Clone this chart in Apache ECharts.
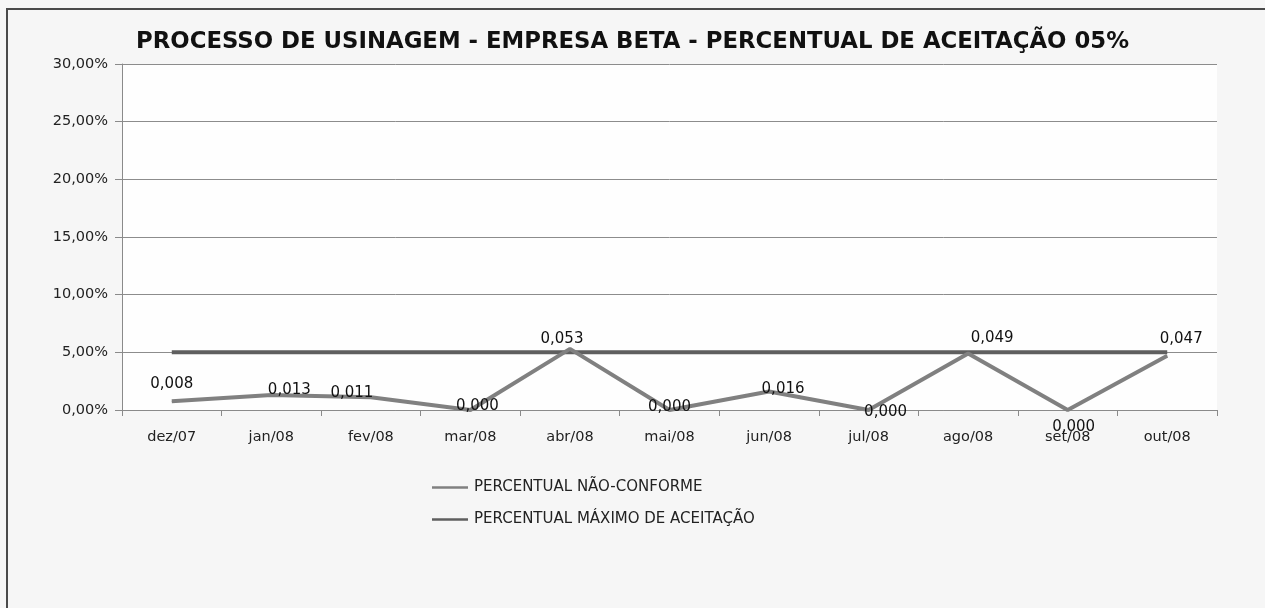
<!DOCTYPE html>
<html>
<head>
<meta charset="utf-8">
<script src="https://cdn.jsdelivr.net/npm/echarts@6/dist/echarts.min.js"></script>
<style>
html,body{margin:0;padding:0;background:#f6f6f6;}
#chart{width:1265px;height:608px;}
</style>
</head>
<body>
<div id="chart"></div>
<script>
const titleText = 'PROCESSO DE USINAGEM - EMPRESA BETA - PERCENTUAL DE ACEITAÇÃO 05%';
const categories = ['dez/07','jan/08','fev/08','mar/08','abr/08','mai/08','jun/08','jul/08','ago/08','set/08','out/08'];
const naoConforme = [0.0076, 0.013, 0.011, 0.000, 0.053, 0.000, 0.016, 0.000, 0.049, 0.000, 0.047];
const maximoAceitacao = [0.05, 0.05, 0.05, 0.05, 0.05, 0.05, 0.05, 0.05, 0.05, 0.05, 0.05];
const seriesNames = ['PERCENTUAL NÃO-CONFORME', 'PERCENTUAL MÁXIMO DE ACEITAÇÃO'];
const yTicks = [0, 0.05, 0.10, 0.15, 0.20, 0.25, 0.30];

// label placement tweaks (style only)
const labelOffsets = [[0,-17],[18,-5],[-19,-4],[7,-4],[-8,-10],[0,-3],[14,-2],[17,2],[24,-15],[6,17],[14,-17]];

const chart = echarts.init(document.getElementById('chart'));
const fmtLabel = v => Number(v).toFixed(3).replace('.', ',');
const fmtPct = v => (v * 100).toFixed(2).replace('.', ',') + '%';

chart.setOption({
  backgroundColor: '#f6f6f6',
  animation: false,
  title: {
    text: titleText,
    left: 'center',
    top: 26,
    textStyle: { fontFamily: 'DejaVu Sans', fontWeight: 'bold', fontSize: 22.8, color: '#111' }
  },
  graphic: [{
    type: 'rect',
    shape: { x: 7, y: 9, width: 1400, height: 800 },
    style: { fill: 'none', stroke: '#4a4a4a', lineWidth: 2 },
    z: 100
  }],
  grid: {
    left: 122, right: 48, top: 64, bottom: 198,
    show: true, backgroundColor: '#fefefe', borderWidth: 0
  },
  legend: {
    orient: 'vertical',
    left: 427,
    top: 475,
    icon: 'rect',
    itemWidth: 36,
    itemHeight: 2.5,
    itemGap: 17,
    textStyle: { fontFamily: 'DejaVu Sans', fontSize: 15, color: '#222', padding: [0,0,0,1] },
    data: seriesNames
  },
  xAxis: {
    type: 'category',
    data: categories,
    boundaryGap: true,
    axisLine: { lineStyle: { color: '#8a8a8a', width: 1 } },
    axisTick: { show: true, length: 6, alignWithLabel: false, lineStyle: { color: '#8a8a8a' } },
    axisLabel: { margin: 20, fontFamily: 'DejaVu Sans', fontSize: 14.5, color: '#222' }
  },
  yAxis: {
    type: 'value',
    min: 0, max: 0.3, interval: 0.05,
    axisLine: { show: true, lineStyle: { color: '#8a8a8a', width: 1 } },
    axisTick: { show: true, length: 7, lineStyle: { color: '#8a8a8a' } },
    splitLine: { show: true, lineStyle: { color: '#8c8c8c', width: 1 } },
    axisLabel: {
      margin: 14, fontFamily: 'DejaVu Sans', fontSize: 14.5, color: '#222',
      formatter: v => { const t = yTicks.find(x => Math.abs(x - v) < 1e-9); return fmtPct(t === undefined ? v : t); }
    }
  },
  series: [
    {
      name: seriesNames[0],
      type: 'line',
      data: naoConforme.map((v, i) => ({
        value: v,
        label: { position: 'inside', offset: labelOffsets[i] }
      })),
      symbol: 'circle',
      symbolSize: 0.5,
      showSymbol: true,
      lineStyle: { color: '#808080', width: 4 },
      itemStyle: { color: '#808080' },
      label: {
        show: true,
        formatter: p => fmtLabel(p.value),
        fontFamily: 'DejaVu Sans', fontSize: 15, color: '#111'
      },
      z: 3
    },
    {
      name: seriesNames[1],
      type: 'line',
      data: maximoAceitacao,
      symbol: 'none',
      lineStyle: { color: '#5f5f5f', width: 4 },
      itemStyle: { color: '#5f5f5f' },
      z: 2
    }
  ]
});
</script>
</body>
</html>
